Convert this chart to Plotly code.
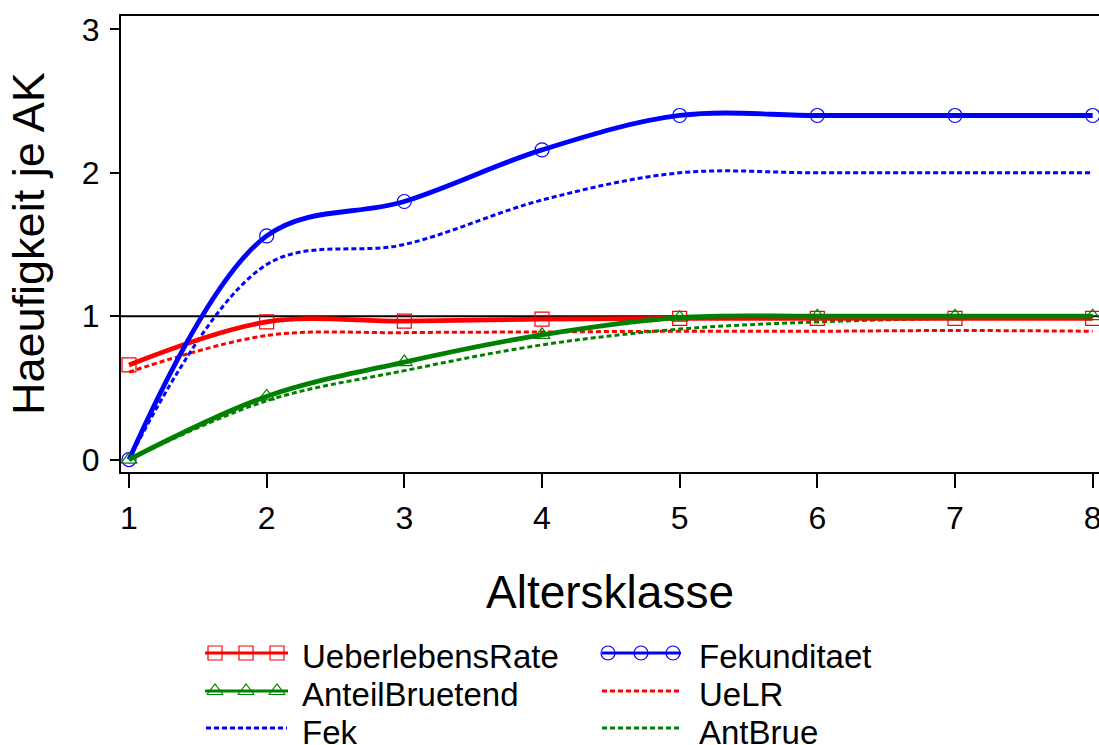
import plotly.graph_objects as go

# ---------------- data ----------------
altersklasse = [1, 2, 3, 4, 5, 6, 7, 8]
ueberlebensrate = [0.66, 0.96, 0.965, 0.98, 0.985, 0.985, 0.985, 0.985]
fekunditaet = [0.0, 1.56, 1.80, 2.16, 2.40, 2.40, 2.40, 2.40]
anteil_bruetend = [0.0, 0.44, 0.68, 0.87, 0.99, 1.0, 1.0, 1.0]
uelr = [0.61, 0.865, 0.885, 0.89, 0.895, 0.895, 0.90, 0.895]
fek = [0.0, 1.36, 1.50, 1.81, 2.0, 2.0, 2.0, 2.0]
antbrue = [0.0, 0.41, 0.62, 0.80, 0.91, 0.96, 0.985, 1.0]

x_ticks = [1, 2, 3, 4, 5, 6, 7, 8]
y_ticks = [0, 1, 2, 3]

series_names = ["UeberlebensRate", "Fekunditaet", "AnteilBruetend", "UeLR", "Fek", "AntBrue"]

# ---------------- style ----------------
W, H = 1099, 745
FONT = "Liberation Sans, Arial, sans-serif"
RED, BLUE, GREEN = "#FF0000", "#0000FF", "#008000"
DOT = "5px,3px"

# plot area in pixels
PL, PR, PT, PB = 121, 1099, 16, 472

fig = go.Figure()

def main_trace(y, name, color, solid, symbol=None):
    kw = dict(
        x=altersklasse, y=y, name=name, mode="lines+markers" if symbol else "lines",
        line=dict(color=color, width=4.8 if solid else 3, shape="spline", smoothing=1.0,
                  dash="solid" if solid else DOT),
        showlegend=False, cliponaxis=True,
    )
    if symbol:
        kw["marker"] = dict(symbol=symbol, size=14, color=color,
                            line=dict(color=color, width=1.2))
    return go.Scatter(**kw)

fig.add_trace(main_trace(uelr, series_names[3], RED, False))
fig.add_trace(main_trace(antbrue, series_names[5], GREEN, False))
fig.add_trace(main_trace(fek, series_names[4], BLUE, False))
fig.add_trace(main_trace(ueberlebensrate, series_names[0], RED, True, "square-open"))
fig.add_trace(main_trace(fekunditaet, series_names[1], BLUE, True, "circle-open"))
fig.add_trace(main_trace(anteil_bruetend, series_names[2], GREEN, True, "triangle-up-open"))

# reference line at 1
fig.add_shape(type="line", xref="x domain", yref="y", x0=0, x1=1, y0=1, y1=1,
              line=dict(color="black", width=2), layer="below")

# ---------------- custom legend (pixel axes) ----------------
LEG_TOP = 633.25
leg_items = [
    (series_names[0], RED, True, "square-open", 205, 288, [215, 246, 277], 300, 653, 656),
    (series_names[2], GREEN, True, "triangle-up-open", 205, 288, [215, 246, 277], 300, 691, 694),
    (series_names[4], BLUE, False, None, 206, 287, [], 300, 728, 732),
    (series_names[1], BLUE, True, "circle-open", 602, 681, [608, 641, 673], 697, 653, 656),
    (series_names[3], RED, False, None, 602, 681, [], 697, 691, 694),
    (series_names[5], GREEN, False, None, 602, 681, [], 697, 728, 732),
]
for name, color, solid, symbol, lx0, lx1, mxs, tx, ry, ty in leg_items:
    fig.add_trace(go.Scatter(
        x=[lx0, lx1], y=[ry, ry], mode="lines", xaxis="x2", yaxis="y2",
        line=dict(color=color, width=3, dash="solid" if solid else DOT),
        showlegend=False, hoverinfo="skip", cliponaxis=False))
    if symbol:
        fig.add_trace(go.Scatter(
            x=mxs, y=[ry] * len(mxs), mode="markers", xaxis="x2", yaxis="y2",
            marker=dict(symbol=symbol, size=14, color=color,
                        line=dict(color=color, width=1.2)),
            showlegend=False, hoverinfo="skip", cliponaxis=False))
    fig.add_annotation(x=tx, y=ty, xref="x2", yref="y2", text=name, showarrow=False,
                       xanchor="left", yanchor="middle",
                       font=dict(family=FONT, size=33, color="black"))

# axis titles
fig.add_annotation(x=(PL + PR) / 2 / W, y=1 - 592 / H, xref="paper", yref="paper",
                   text="Altersklasse", showarrow=False, xanchor="center", yanchor="middle",
                   font=dict(family=FONT, size=46, color="black"))
fig.add_annotation(x=28 / W, y=1 - ((PT + PB) / 2) / H, xref="paper", yref="paper",
                   text="Haeufigkeit je AK", showarrow=False, textangle=-90,
                   xanchor="center", yanchor="middle",
                   font=dict(family=FONT, size=45, color="black"))

fig.update_layout(
    width=W, height=H,
    margin=dict(l=0, r=0, t=0, b=0),
    paper_bgcolor="white", plot_bgcolor="white",
    font=dict(family=FONT, color="black"),
    xaxis=dict(
        domain=[PL / W, PR / W], range=[0.9419, 8.046], tickvals=x_ticks,
        ticktext=[str(v) for v in x_ticks],
        showgrid=False, zeroline=False, showline=True, mirror=True,
        linecolor="black", linewidth=2, ticks="outside", ticklen=14, tickwidth=2,
        tickcolor="black", tickfont=dict(family=FONT, size=32, color="black"),
        automargin=False, ticklabelstandoff=3, ticklabeloverflow="allow",
    ),
    yaxis=dict(
        domain=[1 - PB / H, 1 - PT / H], range=[-0.087, 3.094], tickvals=y_ticks,
        ticktext=[str(v) for v in y_ticks],
        showgrid=False, zeroline=False, showline=True, mirror=False,
        linecolor="black", linewidth=2, ticks="outside", ticklen=9, tickwidth=2,
        tickcolor="black", tickfont=dict(family=FONT, size=32, color="black"),
        automargin=False, ticklabelstandoff=4,
    ),
    xaxis2=dict(domain=[0, 1], range=[0, W], visible=False, anchor="y2", fixedrange=True),
    yaxis2=dict(domain=[0, (H - LEG_TOP) / H], range=[H, LEG_TOP], visible=False,
                anchor="x2", fixedrange=True),
)

fig.write_html("out.html", config={"displayModeBar": False},
               post_script="document.body.style.margin='0';document.body.style.padding='0';")
